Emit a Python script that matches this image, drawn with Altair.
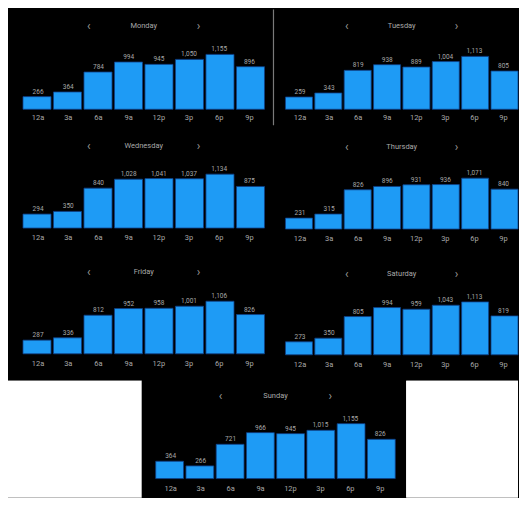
import altair as alt
import pandas as pd

hours = ["12a", "3a", "6a", "9a", "12p", "3p", "6p", "9p"]
days = ["Monday", "Tuesday", "Wednesday", "Thursday", "Friday", "Saturday", "Sunday"]
monday = [266, 364, 784, 994, 945, 1050, 1155, 896]
tuesday = [259, 343, 819, 938, 889, 1004, 1113, 805]
wednesday = [294, 350, 840, 1028, 1041, 1037, 1134, 875]
thursday = [231, 315, 826, 896, 931, 936, 1071, 840]
friday = [287, 336, 812, 952, 958, 1001, 1106, 826]
saturday = [273, 350, 805, 994, 959, 1043, 1113, 819]
sunday = [364, 266, 721, 966, 945, 1015, 1155, 826]
series = [monday, tuesday, wednesday, thursday, friday, saturday, sunday]

BAR = "#1e9bf5"
TXT = "#a8a8a8"
FONT = "Roboto"


def panel(day, vals, W, H, base, title_y, label_y, x0, x1, gray_line=False):
    df = pd.DataFrame({"hour": hours, "v": vals})
    xs = alt.Scale(domain=hours, range=[x0, x1], paddingInner=0.08, paddingOuter=0)
    ys = alt.Scale(domain=[0, base * 21], range=[base, 0])
    X = alt.X("hour:N", sort=hours, scale=xs, axis=None)
    bars = alt.Chart(df).mark_bar(color=BAR, stroke="#0f3f86", strokeWidth=0.8).encode(
        x=X, y=alt.Y("v:Q", scale=ys, axis=None)
    )
    vlab = alt.Chart(df).mark_text(dy=-5, fontSize=6.5, color=TXT, font=FONT).encode(
        x=X, y=alt.Y("v:Q", scale=ys, axis=None), text=alt.Text("v:Q", format=",")
    )
    xlab = alt.Chart(df).mark_text(fontSize=7.5, color=TXT, font=FONT, baseline="middle").encode(
        x=X, y=alt.value(label_y), text="hour:N"
    )
    cx = (x0 + x1) / 2
    tdf = pd.DataFrame({"t": [day]})
    title = alt.Chart(tdf).mark_text(fontSize=7.5, color=TXT, font=FONT, baseline="middle").encode(
        x=alt.value(cx), y=alt.value(title_y), text="t:N"
    )
    adf = pd.DataFrame({"a": ["‹", "›"], "off": [-55, 55]})
    arrows = alt.Chart(adf).mark_text(fontSize=12, color="#9a9a9a", font=FONT, baseline="middle").encode(
        x=alt.X("off:Q", scale=alt.Scale(domain=[-100, 100], range=[cx - 100, cx + 100]), axis=None),
        y=alt.value(title_y),
        text="a:N",
    )
    layers = [bars, vlab, xlab, title, arrows]
    if gray_line:
        layers.append(
            alt.Chart(tdf).mark_rule(color="#7a7a7a", strokeWidth=1.2).encode(
                x=alt.value(W - 2), y=alt.value(1), y2=alt.value(H - 4)
            )
        )
    return alt.layer(*layers).resolve_scale(x="independent").properties(
        width=W, height=H, view=alt.ViewBackground(fill="black", strokeWidth=0)
    )


def spacer(W, H):
    d = pd.DataFrame({"t": [""]})
    return alt.Chart(d).mark_rect(color="white").encode(
        x=alt.value(0), x2=alt.value(W), y=alt.value(0), y2=alt.value(H)
    ).properties(
        width=W, height=H, view=alt.ViewBackground(fill="white", strokeWidth=0)
    )


LW, RW = 268, 243
row1 = alt.hconcat(
    panel(days[0], series[0], LW, 121, 101, 18, 110, 15, 257, gray_line=True),
    panel(days[1], series[1], RW, 121, 101, 18, 110, 10, 243),
    spacing=0, bounds="flush",
)
row2 = alt.hconcat(
    panel(days[2], series[2], LW, 124, 99, 17, 109, 15, 257),
    panel(days[3], series[3], RW, 124, 100, 18, 110, 10, 243),
    spacing=0, bounds="flush",
)
row3 = alt.hconcat(
    panel(days[4], series[4], LW, 128, 101, 19, 111, 15, 257),
    panel(days[5], series[5], RW, 128, 102, 21, 112, 10, 243),
    spacing=0, bounds="flush",
)
row4 = alt.hconcat(
    spacer(134, 117),
    panel(days[6], series[6], 265, 117, 98, 15, 108, 14, 254),
    spacer(112, 117),
    spacing=0, bounds="flush",
)

chart = (
    alt.vconcat(row1, row2, row3, row4, spacing=0)
    .properties(padding=0, background="black")
    .configure_view(strokeWidth=0)
)
chart.save("out.html", embed_options={"renderer": "svg", "actions": False})
